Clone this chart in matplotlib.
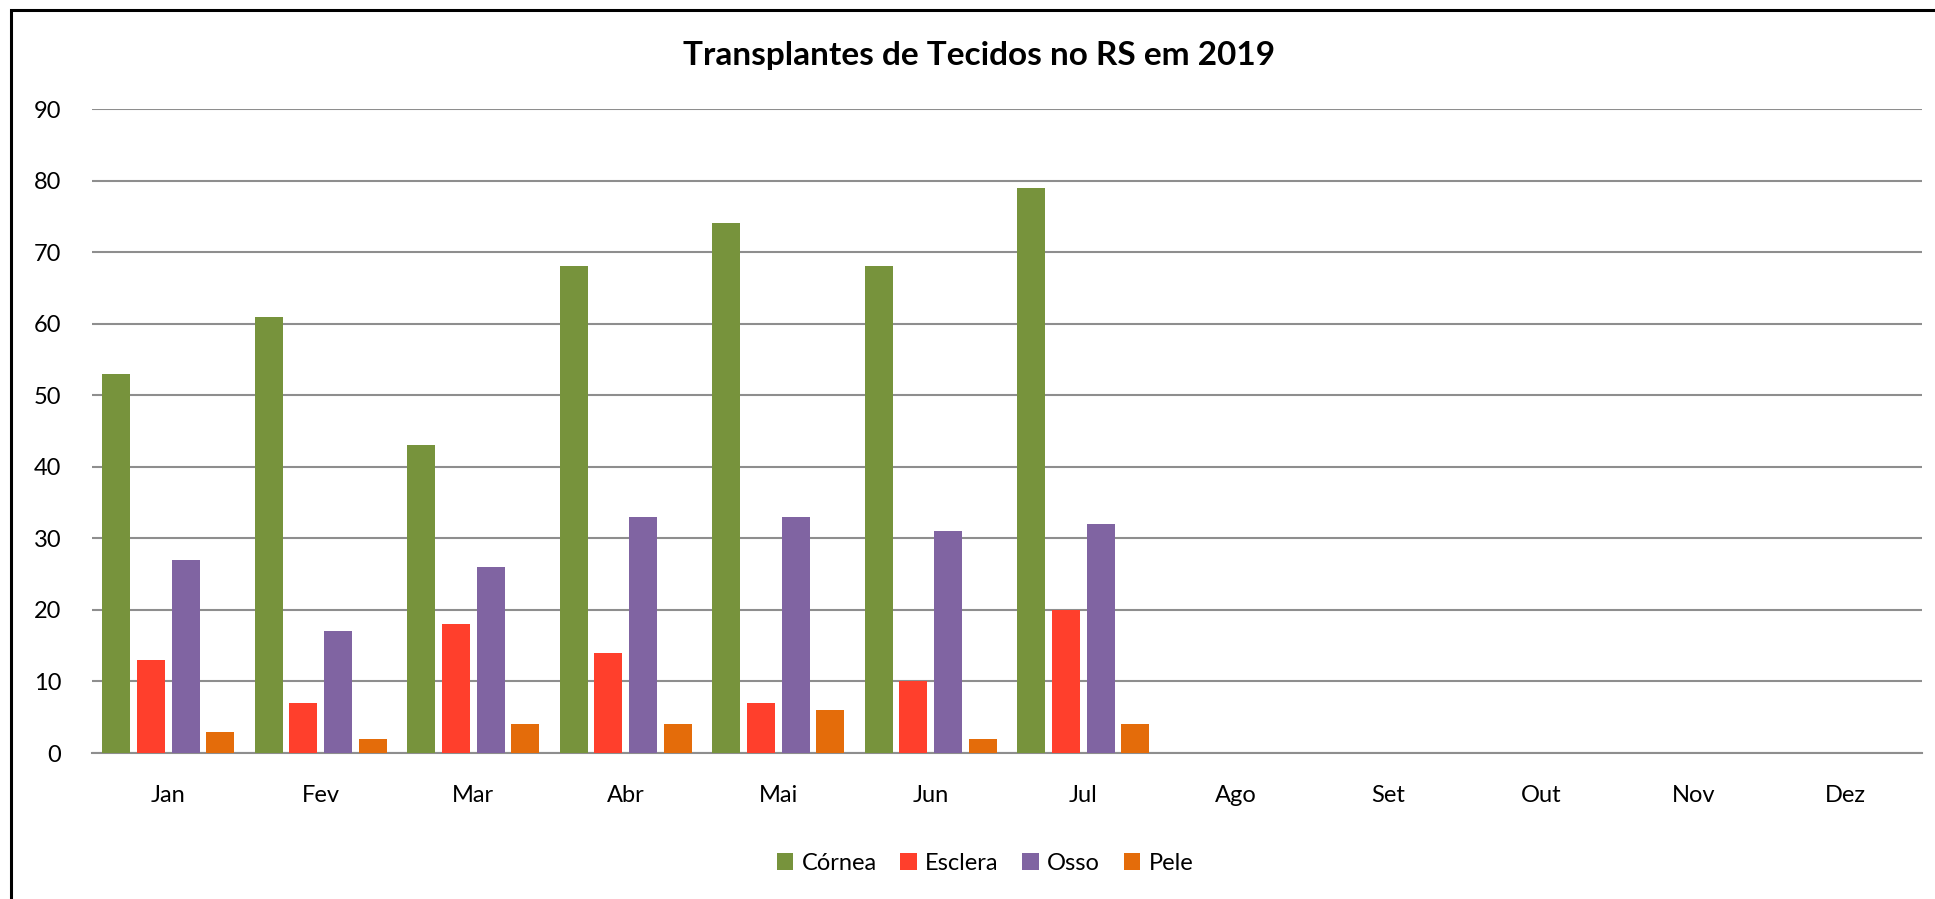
import matplotlib
matplotlib.use("Agg")
import matplotlib.pyplot as plt
import numpy as np
from matplotlib.patches import Rectangle

plt.rcParams["font.family"] = ["Lato", "DejaVu Sans"]

# Transplantes de tecidos no RS, 2019 (Ago-Dez sem dados)
meses = ["Jan", "Fev", "Mar", "Abr", "Mai", "Jun", "Jul", "Ago", "Set", "Out", "Nov", "Dez"]
cornea = [53, 61, 43, 68, 74, 68, 79]
esclera = [13, 7, 18, 14, 7, 10, 20]
osso = [27, 17, 26, 33, 33, 31, 32]
pele = [3, 2, 4, 4, 6, 2, 4]

series = [("Córnea", cornea, "#77933C"),
          ("Esclera", esclera, "#FF3F2C"),
          ("Osso", osso, "#8064A2"),
          ("Pele", pele, "#E46C0A")]

fig = plt.figure(figsize=(19.35, 8.99), dpi=100)
ax = fig.add_axes([92 / 1935, 1 - 753 / 899, (1922 - 92) / 1935, (753 - 109) / 899])

step = 0.228
width = 0.184
for i, (name, vals, col) in enumerate(series):
    x = np.arange(len(vals)) + (i - 1.5) * step
    ax.bar(x, vals, width=width, color=col, label=name, zorder=3)

ax.set_xlim(-0.5, len(meses) - 0.5)
ax.set_ylim(0, 90)
ax.set_yticks(range(0, 91, 10))
ax.set_xticks(range(len(meses)))
ax.set_xticklabels(meses)
ax.tick_params(axis="both", length=0, labelsize=17, colors="black")
ax.tick_params(axis="y", pad=22)
ax.tick_params(axis="x", pad=23)
ax.grid(axis="y", color="#8e8e8e", lw=1.5, zorder=0)
for s in ["top", "right", "left"]:
    ax.spines[s].set_visible(False)
ax.spines["bottom"].set_color("#8e8e8e")
ax.spines["bottom"].set_linewidth(1.5)

fig.text(979 / 1935, 1 - 56 / 899, "Transplantes de Tecidos no RS em 2019",
         ha="center", va="center", fontsize=24, fontweight="bold")

fig.legend(loc="center", bbox_to_anchor=(985 / 1935, 1 - 863 / 899), ncol=4,
           frameon=False, fontsize=17, handlelength=0.7, handleheight=0.7,
           handletextpad=0.35, columnspacing=1.0)

# moldura do gráfico (bordas direita/inferior ficam fora da imagem)
fig.patches.append(Rectangle((11 / 1935, -0.1), 1.2, 1 - 10 / 899 + 0.1,
                             transform=fig.transFigure, fill=False,
                             edgecolor="black", lw=2.2))

fig.savefig("out.png", dpi=100)
